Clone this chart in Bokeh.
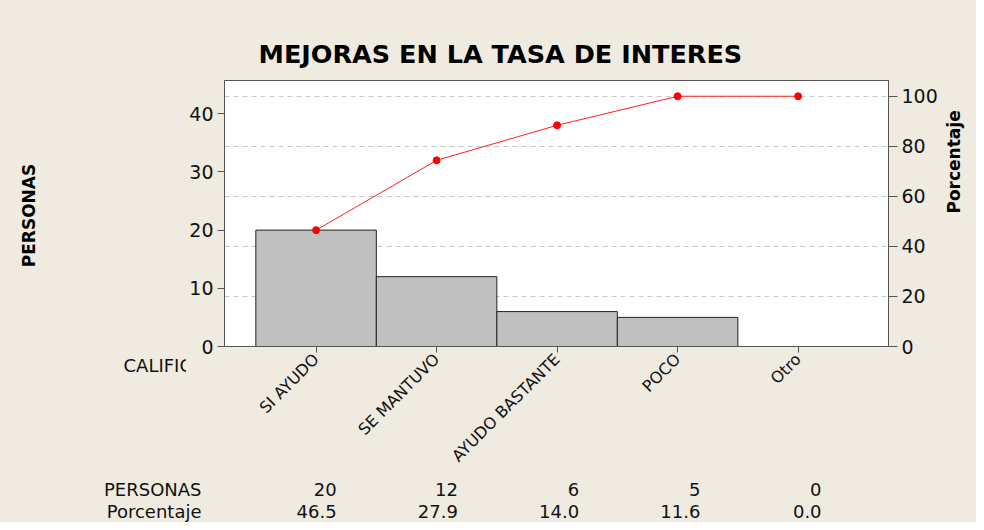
from math import pi
from bokeh.plotting import figure
from bokeh.models import Range1d, LinearAxis, FixedTicker, ColumnDataSource
from bokeh.layouts import row, column
from bokeh.core.properties import value
from bokeh.embed import file_html
from bokeh.resources import INLINE

categories = ["SI AYUDO", "SE MANTUVO", "AYUDO BASTANTE", "POCO", "Otro"]
personas = [20, 12, 6, 5, 0]
porcentaje = [46.5, 27.9, 14.0, 11.6, 0.0]
acumulado = [46.5, 74.4, 88.4, 100.0, 100.0]
left_ticks = [0, 10, 20, 30, 40]
right_ticks = [0, 20, 40, 60, 80, 100]

total = sum(personas)
idx = list(range(len(categories)))

FONT = "DejaVu Sans"
BG = "#EFEBE1"
TXT = "#111111"

X0, X1 = -0.76, 4.75
Y1 = total * 106.3 / 100
W, H = 976, 522
LEFT_W = 186          # width of the left text strip
TABLE_H = 44          # height of the bottom table strip
MAIN_H = H - TABLE_H
FRAME_L, FRAME_R, FRAME_T, FRAME_B = 224, 892, 80, 346   # canvas pixels


def dx(px):
    return X0 + (px - FRAME_L) * (X1 - X0) / (FRAME_R - FRAME_L)


def strip(width, height, x_range, y_range, **borders):
    f = figure(width=width, height=height, output_backend="svg", toolbar_location=None,
               x_range=x_range, y_range=y_range, min_border=0,
               x_axis_location=None, y_axis_location=None, **borders)
    f.border_fill_color = BG
    f.background_fill_color = BG
    f.outline_line_color = None
    f.grid.visible = False
    return f


# ---------------- main chart ----------------
p = figure(width=W - LEFT_W, height=MAIN_H, output_backend="svg", toolbar_location=None,
           x_range=Range1d(X0, X1), y_range=Range1d(0, Y1),
           min_border_left=FRAME_L - LEFT_W, min_border_right=W - FRAME_R,
           min_border_top=FRAME_T, min_border_bottom=MAIN_H - FRAME_B)
p.border_fill_color = BG
p.background_fill_color = "white"
p.outline_line_color = "#555555"
p.outline_line_width = 1

p.title.text = "MEJORAS EN LA TASA DE INTERES"
p.title.align = "left"
p.title.offset = 258 - FRAME_L
p.title.text_font = FONT
p.title.text_font_style = "bold"
p.title.text_font_size = "25.5px"
p.title.text_color = "#000000"
p.title.standoff = 23

p.extra_y_ranges = {"pct": Range1d(0, 106.3)}

src = ColumnDataSource(dict(x=idx, top=personas, cum=acumulado,
                            pers=[str(v) for v in personas],
                            pct=["%.1f" % v for v in porcentaje]))
p.vbar(x="x", top="top", width=1.0, bottom=0, source=src,
       fill_color="#C0C0C0", line_color="#222222", line_width=1)

p.line(x="x", y="cum", source=src, y_range_name="pct", line_color="#FF2020", line_width=1)
p.scatter(x="x", y="cum", source=src, y_range_name="pct", size=7,
          fill_color="#FF0000", line_color="#FF0000")

p.xgrid.visible = False
p.ygrid.ticker = FixedTicker(ticks=[total * v / 100 for v in right_ticks[1:]])
p.ygrid.grid_line_color = "#C8C8C8"
p.ygrid.grid_line_dash = "5 4"
p.ygrid.grid_line_width = 1

xa = p.xaxis[0]
xa.ticker = FixedTicker(ticks=idx)
xa.major_label_overrides = {i: c for i, c in zip(idx, categories)}
xa.major_label_orientation = pi / 4
xa.minor_tick_line_color = None
xa.axis_line_color = "#555555"
xa.major_tick_line_color = "#555555"
xa.major_tick_out = 6
xa.major_tick_in = 0
xa.major_label_text_font = FONT
xa.major_label_text_font_size = "16px"
xa.major_label_text_color = TXT
xa.major_label_standoff = 4

ya = p.yaxis[0]
ya.ticker = FixedTicker(ticks=left_ticks)
ya.minor_tick_line_color = None
ya.axis_line_color = "#555555"
ya.major_tick_line_color = "#555555"
ya.major_tick_out = 7
ya.major_tick_in = 0
ya.major_label_text_font = FONT
ya.major_label_text_font_size = "19px"
ya.major_label_text_color = TXT
ya.major_label_standoff = 4

ra = LinearAxis(y_range_name="pct", ticker=FixedTicker(ticks=right_ticks))
ra.minor_tick_line_color = None
ra.axis_line_color = "#555555"
ra.major_tick_line_color = "#555555"
ra.major_tick_out = 9
ra.major_tick_in = 0
ra.major_label_text_font = FONT
ra.major_label_text_font_size = "19px"
ra.major_label_text_color = TXT
ra.major_label_standoff = 4
ra.axis_label = "Porcentaje"
ra.axis_label_text_font = FONT
ra.axis_label_text_font_style = "bold"
ra.axis_label_text_font_size = "17px"
ra.axis_label_text_color = "#000000"
ra.axis_label_standoff = 13
if "axis_label_orientation" in ra.properties():
    ra.axis_label_orientation = pi / 2
p.add_layout(ra, "right")

# ---------------- left text strip (frame aligned with the chart frame) ----------------
lf = strip(LEFT_W, MAIN_H, Range1d(0, LEFT_W), Range1d(MAIN_H - FRAME_B, MAIN_H - FRAME_T),
           min_border_top=FRAME_T, min_border_bottom=MAIN_H - FRAME_B,
           min_border_left=0, min_border_right=0)
lf.text(x=[28], y=[MAIN_H - 215], text=["PERSONAS"], angle=pi / 2,
        text_font=value(FONT), text_font_style="bold", text_font_size="17px",
        text_align="center", text_baseline="middle", text_color="#000000")

cal = LinearAxis(ticker=FixedTicker(ticks=[]))
cal.axis_line_color = None
cal.major_tick_line_color = None
cal.minor_tick_line_color = None
cal.major_tick_out = 0
cal.major_label_standoff = 0
cal.axis_label = "CALIFICACION"
cal.axis_label_text_font = FONT
cal.axis_label_text_font_style = "normal"
cal.axis_label_text_font_size = "18px"
cal.axis_label_text_color = TXT
cal.axis_label_standoff = 8
for v in ("end", "right"):
    try:
        cal.axis_label_align = v
        break
    except Exception:
        pass
lf.add_layout(cal, "below")

# ---------------- bottom table strip ----------------
tf = strip(W, TABLE_H, Range1d(dx(0), dx(W)), Range1d(0, TABLE_H))
row_y = {"pers": TABLE_H - 11, "pct": TABLE_H - 33}
tf.text(x=[dx(201)] * 2, y=[row_y["pers"], row_y["pct"]], text=["PERSONAS", "Porcentaje"],
        text_font=value(FONT), text_font_size="18px",
        text_align="right", text_baseline="middle", text_color=TXT)
for col in ("pers", "pct"):
    tf.text(x="x", y=row_y[col], text=col, source=src, x_offset=20,
            text_font=value(FONT), text_font_size="18px",
            text_align="right", text_baseline="middle", text_color=TXT)

layout = column(row(lf, p, styles={"background-color": BG}), tf,
                styles={"background-color": BG})
open("out.html", "w").write(file_html(layout, INLINE))
